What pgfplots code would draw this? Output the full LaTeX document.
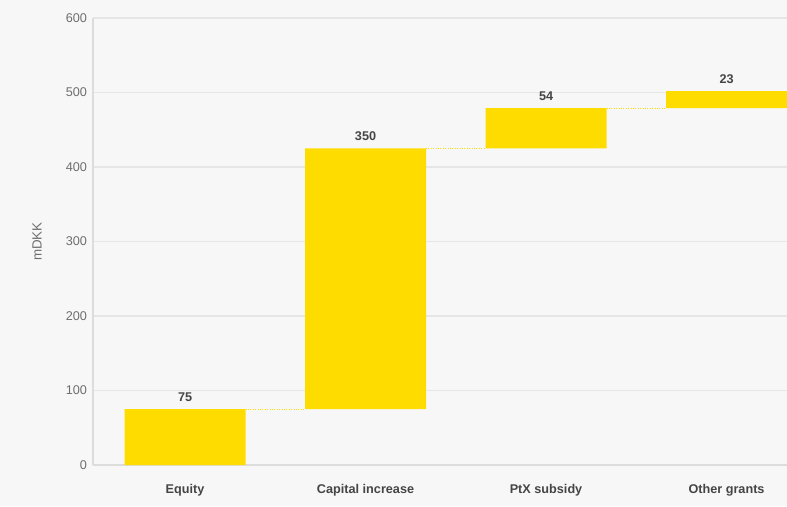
\documentclass[border=0pt]{standalone}
\usepackage{fontspec}
\setmainfont{Liberation Sans}
\usepackage{pgfplots}
\pgfplotsset{compat=1.18}
\definecolor{bgc}{HTML}{F7F7F7}
\definecolor{barY}{HTML}{FFDC00}
\definecolor{gridc}{HTML}{E6E6E6}
\definecolor{axc}{HTML}{DCDCDC}
\definecolor{tickc}{HTML}{6E6E6E}
\definecolor{labc}{HTML}{454545}
\begin{document}
\begin{tikzpicture}
\fill[bgc] (0,0) rectangle (590.25pt,379.5pt);
\useasboundingbox (0,0) rectangle (590.25pt,379.5pt);
\begin{axis}[
  at={(69.75pt,30.75pt)}, anchor=south west,
  scale only axis, width=520.5pt, height=335.25pt,
  ybar, stack plots=y, bar shift=0pt, bar width=0.67,
  xmin=-0.51, xmax=3.335, ymin=0, ymax=600,
  enlargelimits=false,
  axis x line*=bottom, axis y line*=left,
  axis line style={draw=axc, line width=1.5pt, -},
  xtick={0,1,2,3},
  xticklabels={Equity, Capital increase, PtX subsidy, Other grants},
  ytick={0,100,...,600},
  major tick length=0pt,
  ymajorgrids, grid style={draw=gridc, line width=1.3pt},
  /pgf/number format/assume math mode=true,
  yticklabel style={font=\fontsize{9.5}{11}\selectfont, text=tickc, xshift=-1pt},
  xticklabel style={font=\fontsize{9.5}{11}\selectfont\bfseries, text=labc, yshift=-11pt},
  ylabel={mDKK},
  ylabel style={at={(axis description cs:-0.0807,0.5)}, anchor=center, font=\fontsize{10}{12}\selectfont, text=tickc},
  clip=true,
]
\addplot[draw=none, fill=none, forget plot] coordinates {(0,0) (1,75) (2,425) (3,479)};
\addplot[fill=barY, draw=none, point meta=explicit symbolic,
  nodes near coords,
  every node near coord/.style={anchor=south, yshift=2pt, font=\fontsize{9.5}{11}\selectfont\bfseries, text=labc}]
  coordinates {(0,75) [75] (1,350) [350] (2,54) [54] (3,23) [23]};
\draw[barY, densely dotted, line width=0.8pt] (axis cs:0.335,75) -- (axis cs:0.665,75);
\draw[barY, densely dotted, line width=0.8pt] (axis cs:1.335,425) -- (axis cs:1.665,425);
\draw[barY, densely dotted, line width=0.8pt] (axis cs:2.335,479) -- (axis cs:2.665,479);
\end{axis}
\end{tikzpicture}
\end{document}
